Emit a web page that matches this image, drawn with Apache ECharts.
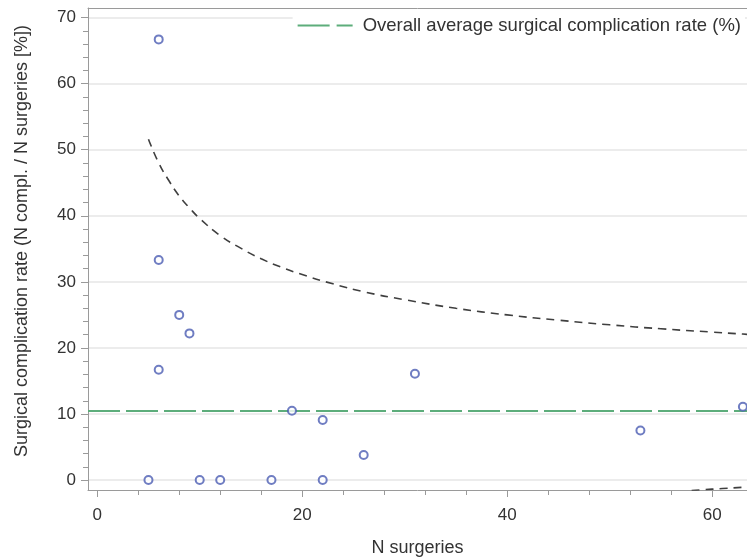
<!DOCTYPE html>
<html>
<head>
<meta charset="utf-8">
<script src="https://cdn.jsdelivr.net/npm/echarts@6/dist/echarts.min.js"></script>
<style>
  html, body { margin: 0; padding: 0; background: #fff; }
  #chart { width: 747px; height: 557px; }
</style>
</head>
<body>
<div id="chart"></div>
<script>
// Number of surgeries per unit and its observed complication rate (%)
const nSurgeries = [5, 6, 6, 6, 8, 9, 10, 12, 17, 19, 22, 22, 26, 31, 53, 63];
const complicationRate = [0, 66.7, 33.3, 16.7, 25.0, 22.2, 0, 0, 0, 10.5, 9.1, 0, 3.8, 16.1, 7.5, 11.1];

// Overall average surgical complication rate (%)
const averageRate = 10.5;

// Control limits of the funnel (%), by number of surgeries
const upperN = [5, 6, 7, 8, 9, 10, 12, 14, 16, 18, 20, 23, 26, 30, 35, 40, 45, 50, 55, 60, 63, 64];
const upperLimit = [51.6, 48.0, 45.3, 43.0, 41.2, 39.6, 37.0, 35.1, 33.5, 32.2, 31.1, 29.7, 28.5, 27.3, 26.0, 25.0, 24.2, 23.5, 22.9, 22.4, 22.1, 22.0];
const lowerN = [58, 59, 61, 63, 64];
const lowerLimit = [-1.58, -1.47, -1.28, -1.09, -1.0];

// Axis tick labels
const xTicks = [0, 20, 40, 60];
const yTicks = [0, 10, 20, 30, 40, 50, 60, 70];

const avgName = 'Overall average surgical complication rate (%)';
const avgGreen = '#5dad7b';
const axisGrey = '#9a9a9a';
const textGrey = '#333333';
const font = 'Liberation Sans, Arial, sans-serif';

const pairs = (xs, ys) => xs.map((x, i) => [x, ys[i]]);

const chart = echarts.init(document.getElementById('chart'), null, { renderer: 'canvas' });

chart.setOption({
  animation: false,
  backgroundColor: '#ffffff',
  textStyle: { fontFamily: font },
  grid: { left: 88, right: 0, top: 8, bottom: 67, containLabel: false, outerBoundsMode: 'none' },
  legend: {
    data: [{ name: avgName, icon: 'path://M0,0H32V2H0ZM39,0H55V2H39Z' }],
    right: 2,
    top: 12,
    padding: [4, 4, 4, 5],
    backgroundColor: '#ffffff',
    itemWidth: 55,
    itemHeight: 2,
    itemStyle: { color: avgGreen },
    textStyle: { fontFamily: font, fontSize: 18.5, color: textGrey, padding: [0, 0, 0, 5] }
  },
  xAxis: [
    {
      type: 'value',
      min: -0.9,
      max: 63.4,
      splitNumber: 3,
      name: 'N surgeries',
      nameLocation: 'middle',
      nameGap: 49,
      nameTextStyle: { fontFamily: font, fontSize: 18, color: textGrey },
      axisLine: { show: true, onZero: false, lineStyle: { color: axisGrey, width: 1 } },
      axisTick: { show: true, customValues: xTicks, length: 7, lineStyle: { color: axisGrey } },
      minorTick: { show: true, splitNumber: 5, length: 5, lineStyle: { color: axisGrey } },
      axisLabel: { customValues: xTicks, fontFamily: font, fontSize: 17, color: textGrey, margin: 17 },
      splitLine: { show: false }
    },
    {
      type: 'value',
      position: 'top',
      min: -0.9,
      max: 63.4,
      axisLine: { show: true, onZero: false, lineStyle: { color: axisGrey, width: 1 } },
      axisTick: { show: false },
      axisLabel: { show: false },
      splitLine: { show: false }
    }
  ],
  yAxis: {
    type: 'value',
    min: -1.5,
    max: 71.45,
    splitNumber: 7,
    name: 'Surgical complication rate (N compl. / N surgeries [%])',
    nameLocation: 'middle',
    nameGap: 57,
    nameTextStyle: { fontFamily: font, fontSize: 18, color: textGrey, padding: [0, 0, 0, 16] },
    axisLine: { show: true, onZero: false, lineStyle: { color: axisGrey, width: 1 } },
    axisTick: { show: true, customValues: yTicks, length: 7, lineStyle: { color: axisGrey } },
    minorTick: { show: true, splitNumber: 5, length: 5, lineStyle: { color: axisGrey } },
    axisLabel: { customValues: yTicks, fontFamily: font, fontSize: 17, color: textGrey, margin: 12 },
    splitLine: { show: true, lineStyle: { color: '#e6e6e6', width: 1.5 } }
  },
  series: [
    {
      name: avgName,
      type: 'line',
      data: [],
      symbol: 'none',
      lineStyle: { color: avgGreen, width: 2, type: [32, 6] },
      itemStyle: { color: avgGreen },
      markLine: {
        silent: true,
        symbol: 'none',
        label: { show: false },
        lineStyle: { color: avgGreen, width: 2, type: [32, 6] },
        data: [{ yAxis: averageRate }]
      },
      z: 3
    },
    {
      name: 'Upper limit',
      type: 'line',
      data: pairs(upperN, upperLimit),
      smooth: true,
      symbol: 'none',
      lineStyle: { color: '#3f3f3f', width: 1.6, type: [8, 6] },
      z: 2
    },
    {
      name: 'Lower limit',
      type: 'line',
      data: pairs(lowerN, lowerLimit),
      smooth: true,
      symbol: 'none',
      lineStyle: { color: '#3f3f3f', width: 1.6, type: [8, 6] },
      z: 2
    },
    {
      name: 'Units',
      type: 'scatter',
      data: pairs(nSurgeries, complicationRate),
      symbol: 'emptyCircle',
      symbolSize: 8,
      itemStyle: { color: '#4b5cb3', borderColor: '#4b5cb3', borderWidth: 1.5 },
      z: 5
    }
  ]
});
</script>
</body>
</html>
